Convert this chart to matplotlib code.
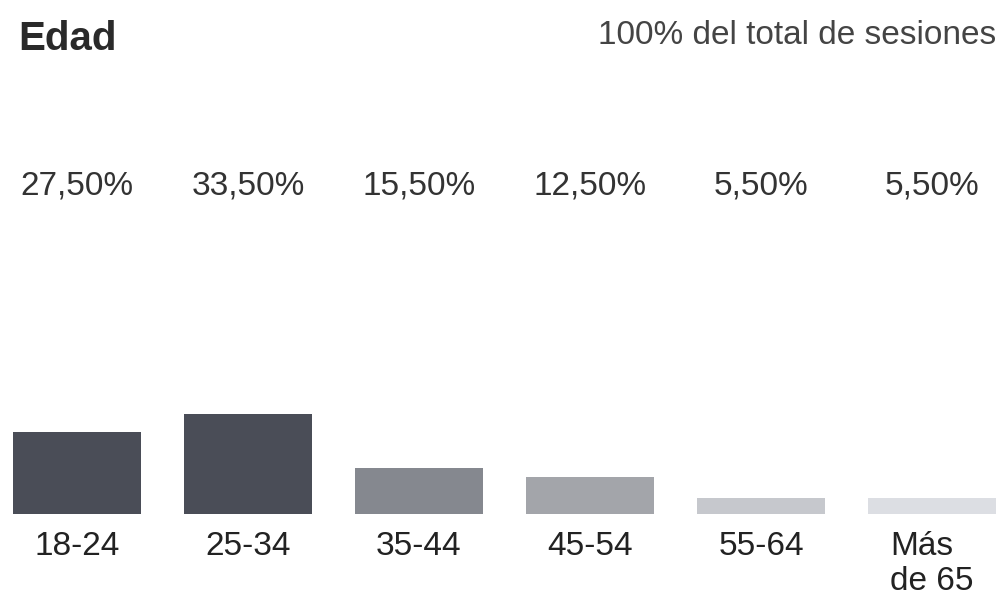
import matplotlib.pyplot as plt

plt.rcParams['font.family'] = ['Liberation Sans', 'DejaVu Sans']

categories = ["18-24", "25-34", "35-44", "45-54", "55-64", "Más\nde 65"]
shares = [27.5, 33.5, 15.5, 12.5, 5.5, 5.5]
share_labels = ["27,50%", "33,50%", "15,50%", "12,50%", "5,50%", "5,50%"]
colors = ["#4a4d57", "#4a4d57", "#85888f", "#a3a5aa", "#c6c8cd", "#dcdee3"]

fig = plt.figure(figsize=(10.03, 5.99), dpi=100)
ax = fig.add_axes([0, 0, 1, 1])
ax.set_xlim(-0.45, 5.415)
ax.set_ylim(-28.3, 171.3)
ax.axis("off")

x = list(range(len(categories)))
ax.bar(x, shares, width=0.75, color=colors)

tr = ax.get_xaxis_transform()
for i in x:
    ax.text(i, 0.69, share_labels[i], transform=tr, ha="center", va="center",
            fontsize=24, color="#333333")
    ax.text(i, 0.113, categories[i], transform=tr, ha="center", va="top",
            fontsize=24, color="#222222", multialignment="left",
            linespacing=1.15)

fig.text(0.018, 0.935, "Edad", fontsize=29, fontweight="bold",
         color="#2a2a2a", ha="left", va="center")
fig.text(0.993, 0.94, "100% del total de sesiones", fontsize=24,
         color="#444444", ha="right", va="center")

fig.savefig("out.png", dpi=100)
